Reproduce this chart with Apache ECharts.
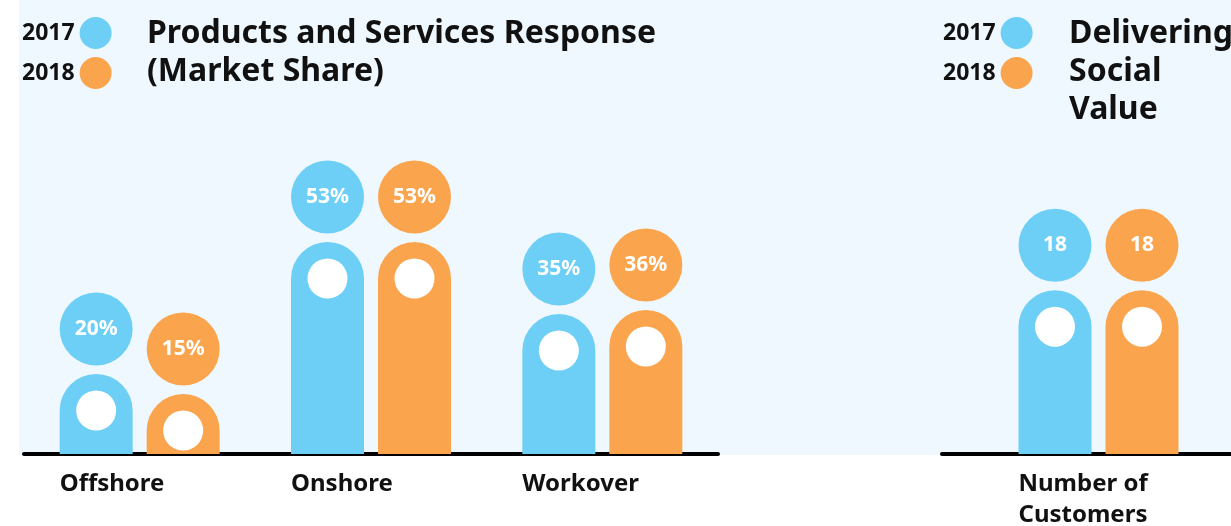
<!DOCTYPE html>
<html>
<head>
<meta charset="utf-8">
<script src="https://cdn.jsdelivr.net/npm/echarts@6/dist/echarts.min.js"></script>
<style>
  html, body { margin: 0; padding: 0; background: #ffffff; }
  #chart { width: 1231px; height: 526px; }
</style>
</head>
<body>
<div id="chart"></div>
<script>
// Market share of products and services, by segment
const years = ['2017', '2018'];
const marketCategories = ['Offshore', 'Onshore', 'Workover'];
const share2017 = [20, 53, 35];
const share2018 = [15, 53, 36];

// Social value delivered
const socialCategories = ['Number of\nCustomers'];
const customers2017 = [18];
const customers2018 = [18];

const BLUE = '#6DCFF6';
const ORANGE = '#FAA54E';
const PANEL = '#EFF8FE';
const FONT = '"Noto Sans", "Open Sans", sans-serif';

const BAR_W = 73;
const BAR_SHIFT = 43.5;

// Pill-shaped bar with a white "head" dot and a value bubble floating above it
function pillRenderer(shift, color, suffix) {
  return function (params, api) {
    const cat = api.value(0);
    const val = api.value(1);
    const top = api.coord([cat, val]);
    const base = api.coord([cat, 0]);
    const cx = top[0] + shift;
    const r = BAR_W / 2;
    return {
      type: 'group',
      children: [
        {
          type: 'rect',
          shape: { x: cx - r, y: top[1], width: BAR_W, height: base[1] - top[1], r: [r, r, 0, 0] },
          style: { fill: color }
        },
        {
          type: 'circle',
          shape: { cx: cx, cy: top[1] + r, r: 20 },
          style: { fill: '#ffffff' }
        },
        {
          type: 'circle',
          shape: { cx: cx, cy: top[1] - 45, r: r },
          style: { fill: color }
        },
        {
          type: 'text',
          style: {
            text: val + suffix,
            x: cx,
            y: top[1] - 45,
            align: 'center',
            verticalAlign: 'middle',
            fill: '#ffffff',
            font: 'bold 21px ' + FONT
          }
        }
      ]
    };
  };
}

function toPairs(values) {
  return values.map((v, i) => [i, v]);
}

function catAxis(gridIndex, categories) {
  return {
    type: 'category',
    gridIndex: gridIndex,
    data: categories,
    axisLine: { lineStyle: { color: '#000000', width: 4 } },
    axisTick: { show: false },
    axisLabel: {
      interval: 0,
      margin: 15,
      align: 'center',
      formatter: (v) => v.split('\n').map(s => '{a|' + s + '}').join('\n'),
      rich: {
        a: {
          width: 160,
          align: 'left',
          fontSize: 24,
          lineHeight: 31,
          fontWeight: 'bold',
          fontFamily: FONT,
          color: '#111111'
        }
      }
    }
  };
}

function legendAt(left) {
  return {
    data: years,
    orient: 'vertical',
    align: 'right',
    left: left,
    top: 17,
    padding: 0,
    icon: 'circle',
    itemWidth: 32,
    itemHeight: 32,
    itemGap: 8,
    selectedMode: false,
    textStyle: { fontSize: 23, fontWeight: 'bold', fontFamily: FONT, color: '#111111' }
  };
}

const titleStyle = { fontSize: 32, lineHeight: 38, fontWeight: 'bold', fontFamily: FONT, color: '#111111' };

const chart = echarts.init(document.getElementById('chart'), null, { renderer: 'canvas' });

chart.setOption({
  animation: false,
  color: [BLUE, ORANGE],
  graphic: {
    elements: [
      { type: 'rect', z: -100, shape: { x: 19, y: 0, width: 1212, height: 455 }, style: { fill: PANEL } }
    ]
  },
  title: [
    { text: 'Products and Services Response\n(Market Share)', left: 147, top: 15, padding: 0, textStyle: titleStyle },
    { text: 'Delivering\nSocial\nValue', left: 1069, top: 15, padding: 0, textStyle: titleStyle }
  ],
  legend: [legendAt(22), legendAt(943)],
  grid: [
    { left: 24, width: 694, top: 54, bottom: 72, outerBoundsMode: 'none' },
    { left: 942, width: 313, top: 90, bottom: 72, outerBoundsMode: 'none' }
  ],
  xAxis: [catAxis(0, marketCategories), catAxis(1, socialCategories)],
  yAxis: [
    { type: 'value', gridIndex: 0, min: 0, max: 100, show: false },
    { type: 'value', gridIndex: 1, min: 0, max: 40, show: false }
  ],
  series: [
    { name: years[0], type: 'custom', xAxisIndex: 0, yAxisIndex: 0, color: BLUE,
      renderItem: pillRenderer(-BAR_SHIFT, BLUE, '%'), encode: { x: 0, y: 1 }, data: toPairs(share2017) },
    { name: years[1], type: 'custom', xAxisIndex: 0, yAxisIndex: 0, color: ORANGE,
      renderItem: pillRenderer(BAR_SHIFT, ORANGE, '%'), encode: { x: 0, y: 1 }, data: toPairs(share2018) },
    { name: years[0], type: 'custom', xAxisIndex: 1, yAxisIndex: 1, color: BLUE,
      renderItem: pillRenderer(-BAR_SHIFT, BLUE, ''), encode: { x: 0, y: 1 }, data: toPairs(customers2017) },
    { name: years[1], type: 'custom', xAxisIndex: 1, yAxisIndex: 1, color: ORANGE,
      renderItem: pillRenderer(BAR_SHIFT, ORANGE, ''), encode: { x: 0, y: 1 }, data: toPairs(customers2018) }
  ]
});
</script>
</body>
</html>
